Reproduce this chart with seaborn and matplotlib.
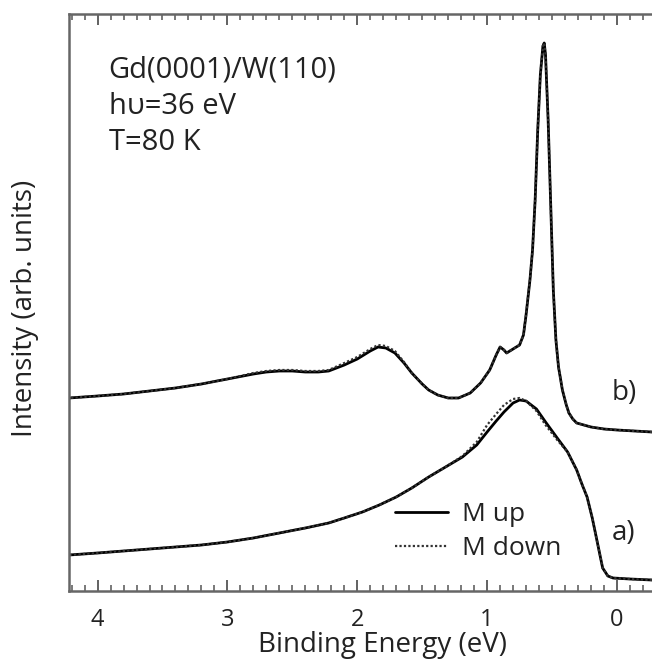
import matplotlib
matplotlib.use("Agg")
import pandas as pd
import seaborn as sns
import matplotlib.pyplot as plt
from matplotlib.ticker import MultipleLocator

# binding energy (eV) and intensity (arb. units)
energy_a = [4.22, 4.0, 3.8, 3.6, 3.4, 3.2, 3.0, 2.8, 2.6, 2.4, 2.22, 2.1, 1.96, 1.83,
            1.70, 1.58, 1.45, 1.32, 1.19, 1.08, 1.0, 0.93, 0.87, 0.80, 0.75, 0.70,
            0.62, 0.55, 0.46, 0.38, 0.31, 0.27, 0.23, 0.19, 0.15, 0.11, 0.07, 0.03,
            -0.1, -0.27]
a_up = [36, 38, 40, 42, 44, 46, 49, 53, 58, 63, 68, 73, 79, 86,
        94, 103, 114, 124, 134, 146, 159, 170, 179, 188, 191, 190,
        182, 169, 153, 139, 121, 107, 94, 73, 48, 23, 15, 13,
        12, 11]
a_down = [36, 38, 40, 42, 44, 46, 49, 53, 58, 63, 68, 73, 79, 86,
          94, 103, 114, 124, 135, 149, 166, 177, 186, 192, 193, 190,
          180, 166, 151, 139, 121, 107, 94, 73, 48, 23, 15, 13,
          12, 11]

energy_b = [4.22, 4.0, 3.8, 3.6, 3.4, 3.2, 3.0, 2.8, 2.7, 2.6, 2.5, 2.4, 2.3, 2.22,
            2.1, 2.0, 1.9, 1.84, 1.78, 1.71, 1.64, 1.58, 1.50, 1.45, 1.38, 1.30,
            1.22, 1.13, 1.05, 0.98, 0.93, 0.90, 0.87, 0.85, 0.80, 0.75, 0.72, 0.70,
            0.67, 0.65, 0.63, 0.61, 0.59, 0.57, 0.56, 0.55, 0.53, 0.51, 0.49, 0.47,
            0.45, 0.42, 0.39, 0.37, 0.34, 0.31, 0.2, 0.1, 0.0, -0.27]
b_up = [193, 195, 197, 200, 203, 207, 212, 217, 219, 220, 220, 219, 219, 220,
        226, 232, 240, 244, 243, 238, 228, 218, 207, 201, 196, 193,
        193, 198, 208, 221, 236, 244, 241, 238, 242, 246, 256, 276,
        311, 341, 391, 461, 516, 545, 548, 536, 471, 386, 301, 251,
        224, 201, 186, 178, 172, 168, 164, 162, 161, 159]
b_down = [193, 195, 197, 200, 203, 207, 212, 218, 220, 221, 221, 220, 220, 221,
          228, 234, 242, 246, 245, 240, 229, 218, 207, 201, 196, 193,
          193, 198, 208, 221, 236, 244, 241, 238, 242, 246, 256, 276,
          311, 341, 391, 461, 516, 545, 548, 536, 471, 386, 301, 251,
          224, 201, 186, 178, 172, 168, 164, 162, 161, 159]

sns.set_style("ticks")
plt.rcParams["font.family"] = ["Open Sans", "DejaVu Sans"]

fig = plt.figure(figsize=(6.52, 6.68), dpi=100)
ax = fig.add_axes([69/652, 1 - 591/668, (652 - 69)/652, (591 - 14)/668])

sns.lineplot(x=energy_a, y=a_up, ax=ax, color="black", lw=2.0, label="M up")
sns.lineplot(x=energy_a, y=a_down, ax=ax, color="#333333", lw=1.6,
             linestyle=(0, (1, 1)), label="M down")
sns.lineplot(x=energy_b, y=b_up, ax=ax, color="black", lw=2.0)
sns.lineplot(x=energy_b, y=b_down, ax=ax, color="#333333", lw=1.6,
             linestyle=(0, (1, 1)))

ax.set_xlim(4.22, -0.27)
ax.set_ylim(0, 577)
ax.set_yticks([])

ax.xaxis.set_major_locator(MultipleLocator(1))
ax.xaxis.set_minor_locator(MultipleLocator(0.1))
ax.tick_params(axis="x", which="both", direction="in", top=True, bottom=True,
               colors="#555555", labelcolor="#222222", labelsize=17, pad=12)
ax.tick_params(axis="x", which="major", length=8, width=1.3)
ax.tick_params(axis="x", which="minor", length=4, width=1.1)

for side in ["left", "bottom", "top"]:
    ax.spines[side].set_color("#666666")
    ax.spines[side].set_linewidth(1.8)
ax.spines["right"].set_visible(False)

ax.set_xlabel("Binding Energy (eV)", fontsize=20, color="#222222")
ax.xaxis.set_label_coords((382 - 69) / 583, -0.07)
ax.set_ylabel("Intensity (arb. units)", fontsize=20, color="#222222")
ax.yaxis.set_label_coords(-0.052, (591 - 308) / 577)

ax.text(3.915, 513, "Gd(0001)/W(110)", fontsize=21, va="baseline", color="#222222")
ax.text(3.915, 477, "h\u03c5=36 eV", fontsize=21, va="baseline", color="#222222")
ax.text(3.915, 441, "T=80 K", fontsize=21, va="baseline", color="#222222")
ax.text(0.04, 198, "b)", fontsize=20, va="center", color="#222222")
ax.text(0.04, 58, "a)", fontsize=20, va="center", color="#222222")

leg = ax.legend(loc="upper left", bbox_to_anchor=((395 - 69) / 583, (591 - 502) / 577),
                frameon=False, fontsize=19, handlelength=2.0, handletextpad=0.55,
                labelspacing=0.35, borderpad=0, borderaxespad=0)
for t in leg.get_texts():
    t.set_color("#222222")

fig.savefig("out.png", dpi=100)
